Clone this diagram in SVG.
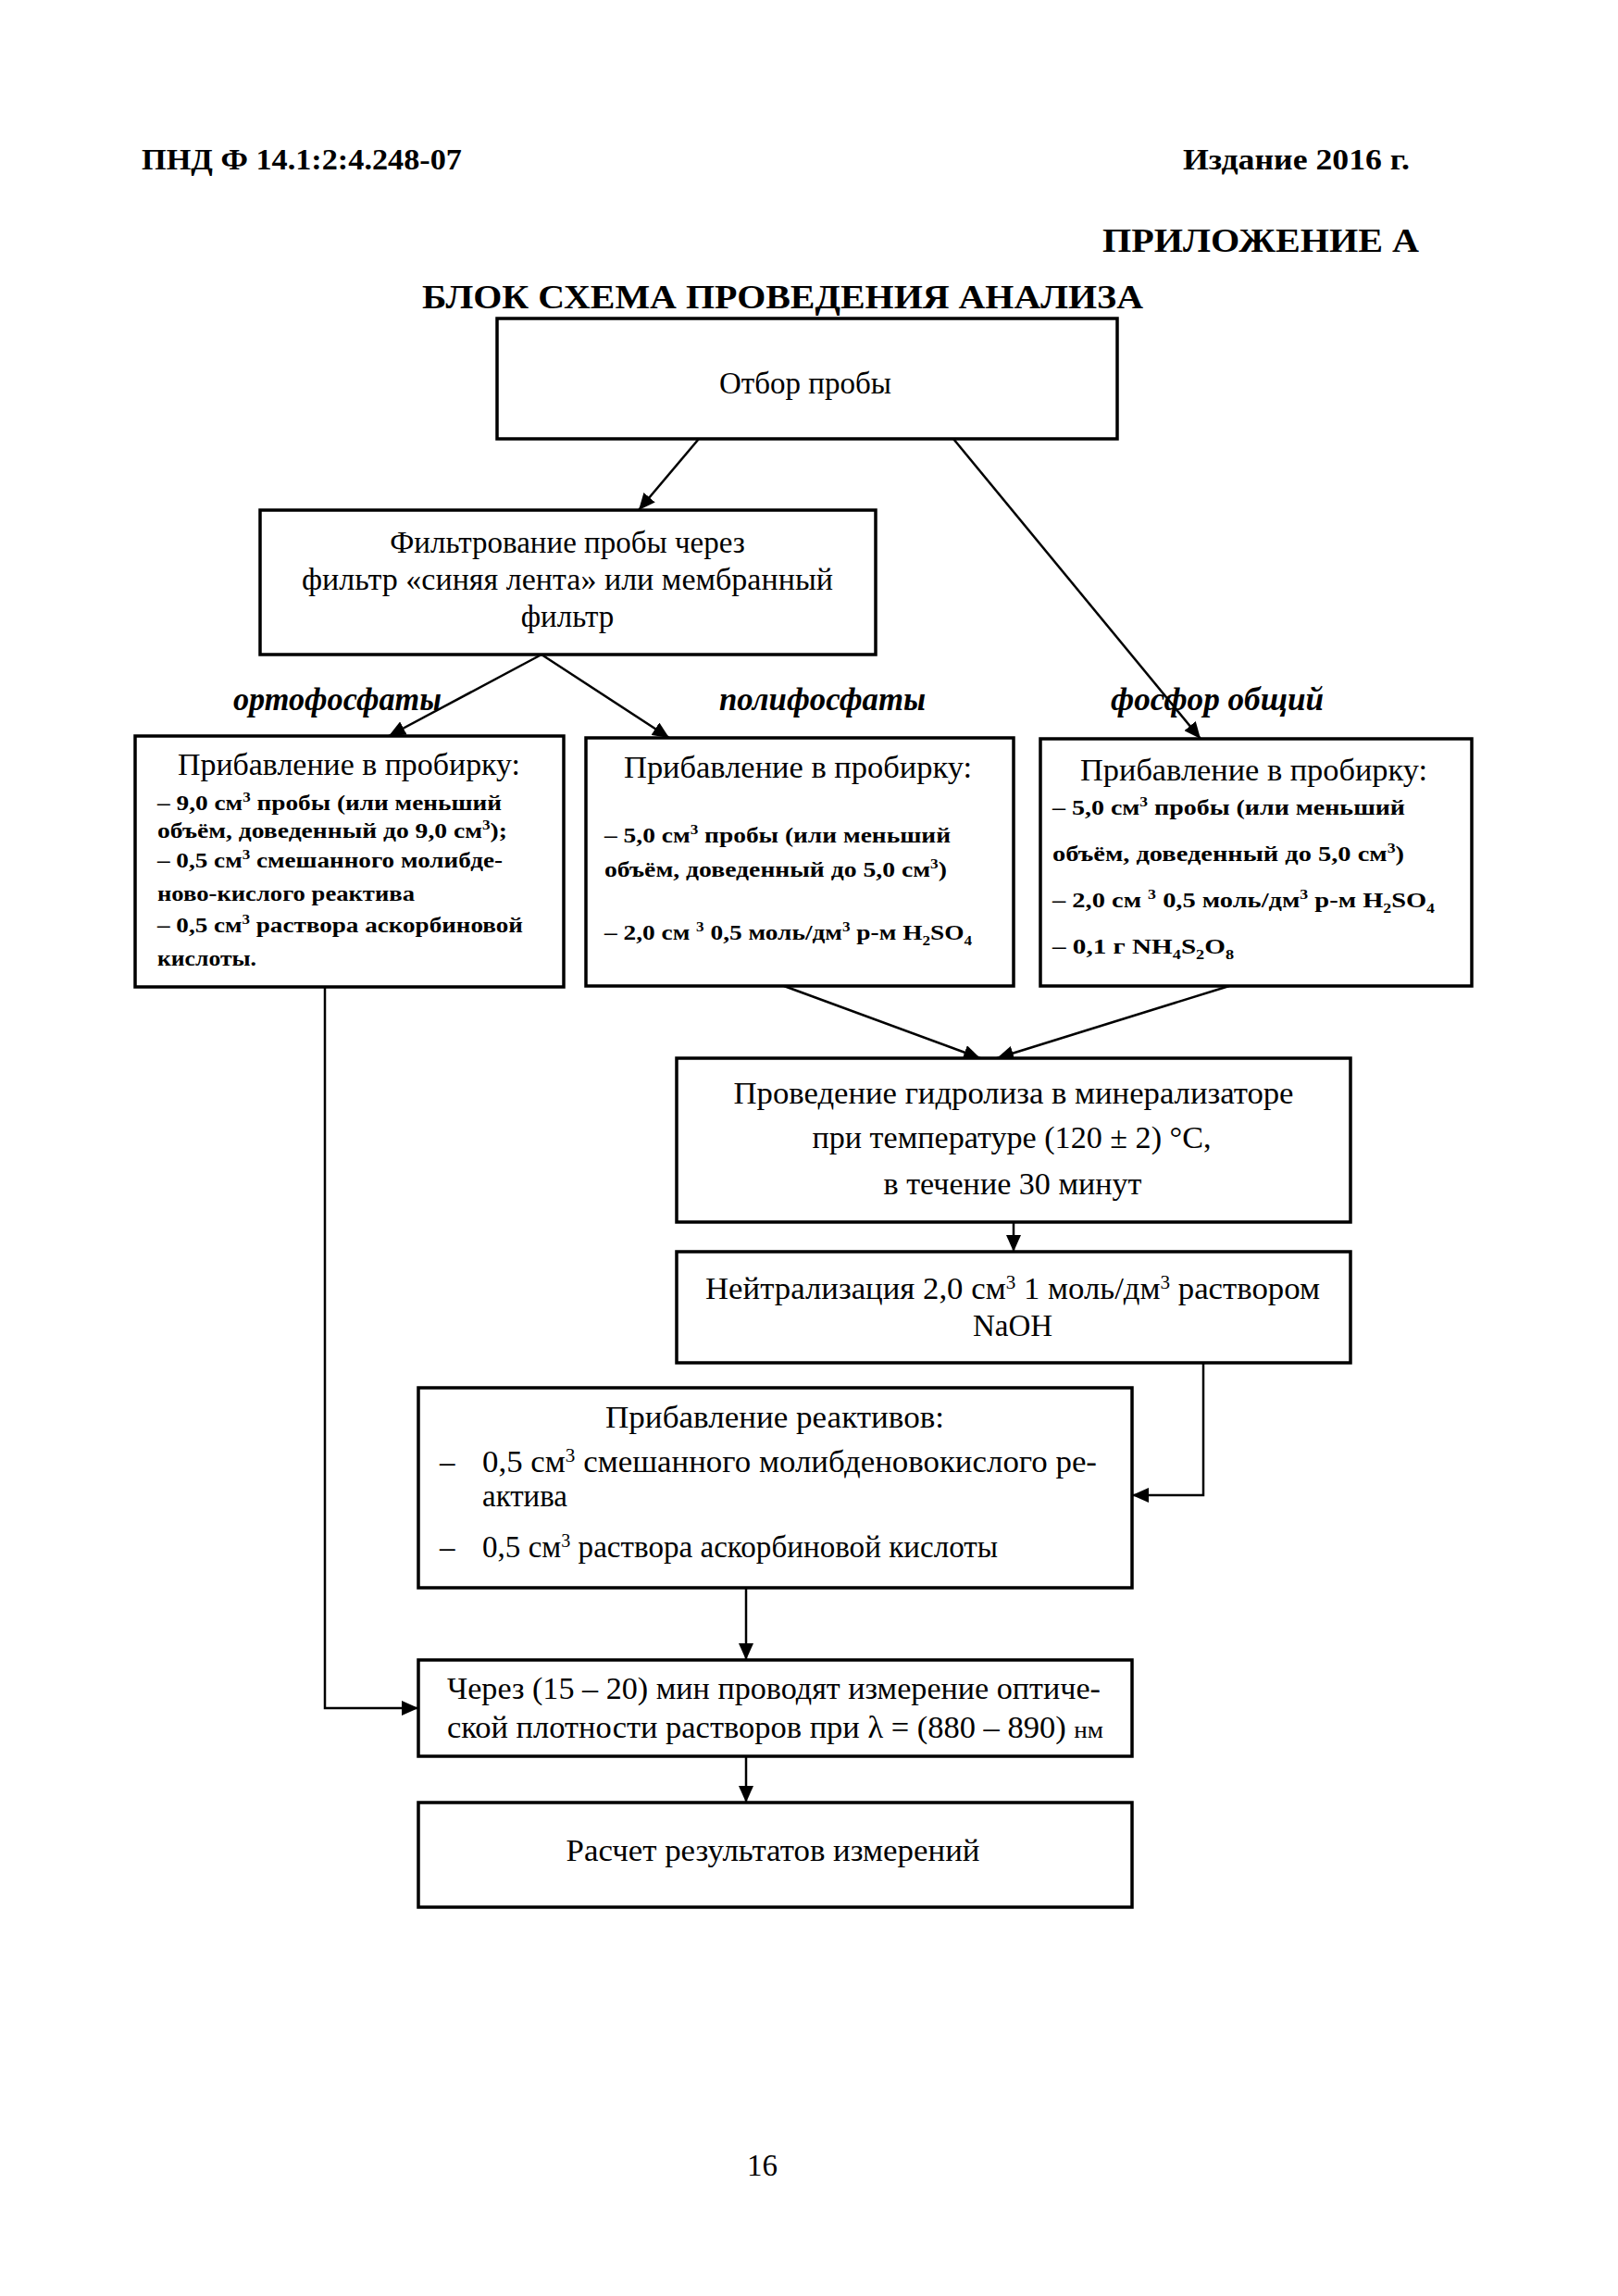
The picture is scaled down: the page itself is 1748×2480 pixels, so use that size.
<svg xmlns="http://www.w3.org/2000/svg" width="1748" height="2480" viewBox="0 0 1748 2480">
<style>
text{font-family:"Liberation Serif","Times New Roman",serif;fill:#000}
.box{fill:#fff;stroke:#000;stroke-width:3.5}
.conn{fill:none;stroke:#000;stroke-width:2.5;marker-end:url(#ah)}
.t{font-size:33px}
.c{text-anchor:middle}
.s{font-size:24px;font-weight:bold}
.lab{font-size:35px;font-weight:bold;font-style:italic}
.h{font-weight:bold;font-size:32px}
.h2{font-weight:bold;font-size:36px}
</style>
<defs>
<marker id="ah" markerUnits="userSpaceOnUse" markerWidth="20" markerHeight="16" refX="18" refY="8" orient="auto">
<path d="M0,0 L18,8 L0,16 z" fill="#000"/>
</marker>
</defs>
<rect width="1748" height="2480" fill="#fff"/>

<g id="header">
<text class="h" x="153" y="183" textLength="346" lengthAdjust="spacingAndGlyphs">ПНД Ф 14.1:2:4.248-07</text>
<text class="h" x="1278" y="183" textLength="245" lengthAdjust="spacingAndGlyphs">Издание 2016 г.</text>
<text class="h2" x="1191" y="272" textLength="342" lengthAdjust="spacingAndGlyphs">ПРИЛОЖЕНИЕ А</text>
<text class="h2" x="456" y="333" textLength="779" lengthAdjust="spacingAndGlyphs">БЛОК СХЕМА ПРОВЕДЕНИЯ АНАЛИЗА</text>
</g>

<g id="connectors">
<line class="conn" x1="755" y1="474" x2="690" y2="551"/>
<line class="conn" x1="1030" y1="474" x2="1297" y2="798"/>
<line class="conn" x1="585" y1="707" x2="420" y2="795"/>
<line class="conn" x1="585" y1="707" x2="723" y2="797"/>
<line class="conn" x1="847" y1="1065" x2="1059" y2="1143"/>
<line class="conn" x1="1328" y1="1065" x2="1077" y2="1143"/>
<line class="conn" x1="1095" y1="1320" x2="1095" y2="1352"/>
<polyline class="conn" points="1300,1472 1300,1615 1223,1615"/>
<line class="conn" x1="806" y1="1715" x2="806" y2="1793"/>
<polyline class="conn" points="351,1066 351,1845 452,1845"/>
<line class="conn" x1="806" y1="1897" x2="806" y2="1947"/>
</g>

<g id="labels">
<text class="lab" x="252" y="767" textLength="225" lengthAdjust="spacingAndGlyphs">ортофосфаты</text>
<text class="lab" x="777" y="767" textLength="223" lengthAdjust="spacingAndGlyphs">полифосфаты</text>
<text class="lab" x="1200" y="767" textLength="230" lengthAdjust="spacingAndGlyphs">фосфор общий</text>
</g>

<g id="n-otbor">
<rect class="box" x="537" y="344" width="670" height="130"/>
<text class="t c" x="870" y="425">Отбор пробы</text>
</g>

<g id="n-filter">
<rect class="box" x="281" y="551" width="665" height="156"/>
<text class="t c" x="613" y="597">Фильтрование пробы через</text>
<text class="t c" x="613" y="637" textLength="574" lengthAdjust="spacingAndGlyphs">фильтр «синяя лента» или мембранный</text>
<text class="t c" x="613" y="677">фильтр</text>
</g>

<g id="n-ortho">
<rect class="box" x="146" y="795" width="463" height="271"/>
<text class="t" x="192" y="837" textLength="370" lengthAdjust="spacingAndGlyphs">Прибавление в пробирку:</text>
<text class="s" x="170" y="875" textLength="372" lengthAdjust="spacingAndGlyphs">– 9,0 см<tspan dy="-9" font-size="15">3</tspan><tspan dy="9"> пробы (или меньший</tspan></text>
<text class="s" x="170" y="905" textLength="378" lengthAdjust="spacingAndGlyphs">объём, доведенный до 9,0 см<tspan dy="-9" font-size="15">3</tspan><tspan dy="9">);</tspan></text>
<text class="s" x="170" y="937" textLength="373" lengthAdjust="spacingAndGlyphs">– 0,5 см<tspan dy="-9" font-size="15">3</tspan><tspan dy="9"> смешанного молибде-</tspan></text>
<text class="s" x="170" y="973" textLength="278" lengthAdjust="spacingAndGlyphs">ново-кислого реактива</text>
<text class="s" x="170" y="1007" textLength="395" lengthAdjust="spacingAndGlyphs">– 0,5 см<tspan dy="-9" font-size="15">3</tspan><tspan dy="9"> раствора аскорбиновой</tspan></text>
<text class="s" x="170" y="1043" textLength="107" lengthAdjust="spacingAndGlyphs">кислоты.</text>
</g>

<g id="n-poly">
<rect class="box" x="633" y="797" width="462" height="268"/>
<text class="t" x="674" y="840" textLength="376" lengthAdjust="spacingAndGlyphs">Прибавление в пробирку:</text>
<text class="s" x="653" y="910" textLength="374" lengthAdjust="spacingAndGlyphs">– 5,0 см<tspan dy="-9" font-size="15">3</tspan><tspan dy="9"> пробы (или меньший</tspan></text>
<text class="s" x="653" y="947" textLength="370" lengthAdjust="spacingAndGlyphs">объём, доведенный до 5,0 см<tspan dy="-9" font-size="15">3</tspan><tspan dy="9">)</tspan></text>
<text class="s" x="653" y="1015" textLength="397" lengthAdjust="spacingAndGlyphs">– 2,0 см <tspan dy="-9" font-size="15">3</tspan><tspan dy="9"> 0,5 моль/дм</tspan><tspan dy="-9" font-size="15">3</tspan><tspan dy="9"> р-м H</tspan><tspan dy="6" font-size="15">2</tspan><tspan dy="-6">SO</tspan><tspan dy="6" font-size="15">4</tspan></text>
</g>

<g id="n-total">
<rect class="box" x="1124" y="798" width="466" height="267"/>
<text class="t" x="1167" y="843" textLength="375" lengthAdjust="spacingAndGlyphs">Прибавление в пробирку:</text>
<text class="s" x="1137" y="880" textLength="381" lengthAdjust="spacingAndGlyphs">– 5,0 см<tspan dy="-9" font-size="15">3</tspan><tspan dy="9"> пробы (или меньший</tspan></text>
<text class="s" x="1137" y="930" textLength="380" lengthAdjust="spacingAndGlyphs">объём, доведенный до 5,0 см<tspan dy="-9" font-size="15">3</tspan><tspan dy="9">)</tspan></text>
<text class="s" x="1137" y="980" textLength="413" lengthAdjust="spacingAndGlyphs">– 2,0 см <tspan dy="-9" font-size="15">3</tspan><tspan dy="9"> 0,5 моль/дм</tspan><tspan dy="-9" font-size="15">3</tspan><tspan dy="9"> р-м H</tspan><tspan dy="6" font-size="15">2</tspan><tspan dy="-6">SO</tspan><tspan dy="6" font-size="15">4</tspan></text>
<text class="s" x="1137" y="1030" textLength="196" lengthAdjust="spacingAndGlyphs">– 0,1 г NH<tspan dy="6" font-size="15">4</tspan><tspan dy="-6">S</tspan><tspan dy="6" font-size="15">2</tspan><tspan dy="-6">O</tspan><tspan dy="6" font-size="15">8</tspan></text>
</g>

<g id="n-hydrolysis">
<rect class="box" x="731" y="1143" width="728" height="177"/>
<text class="t c" x="1095" y="1192" textLength="605" lengthAdjust="spacingAndGlyphs">Проведение гидролиза в минерализаторе</text>
<text class="t c" x="1093" y="1240" textLength="431" lengthAdjust="spacingAndGlyphs">при температуре (120 ± 2) °С,</text>
<text class="t c" x="1094" y="1290" textLength="279" lengthAdjust="spacingAndGlyphs">в течение 30 минут</text>
</g>

<g id="n-neutral">
<rect class="box" x="731" y="1352" width="728" height="120"/>
<text class="t" x="762" y="1403" textLength="664" lengthAdjust="spacingAndGlyphs">Нейтрализация 2,0 см<tspan dy="-11" font-size="20">3</tspan><tspan dy="11"> 1 моль/дм</tspan><tspan dy="-11" font-size="20">3</tspan><tspan dy="11"> раствором</tspan></text>
<text class="t c" x="1094" y="1443">NaOH</text>
</g>

<g id="n-reagents">
<rect class="box" x="452" y="1499" width="771" height="216"/>
<text class="t c" x="837" y="1542" textLength="366" lengthAdjust="spacingAndGlyphs">Прибавление реактивов:</text>
<text class="t" x="475" y="1590">–</text>
<text class="t" x="521" y="1590" textLength="664" lengthAdjust="spacingAndGlyphs">0,5 см<tspan dy="-11" font-size="20">3</tspan><tspan dy="11"> смешанного молибденовокислого ре-</tspan></text>
<text class="t" x="521" y="1627" textLength="92" lengthAdjust="spacingAndGlyphs">актива</text>
<text class="t" x="475" y="1682">–</text>
<text class="t" x="521" y="1682" textLength="557" lengthAdjust="spacingAndGlyphs">0,5 см<tspan dy="-11" font-size="20">3</tspan><tspan dy="11"> раствора аскорбиновой кислоты</tspan></text>
</g>

<g id="n-measure">
<rect class="box" x="452" y="1793" width="771" height="104"/>
<text class="t" x="483" y="1835" textLength="706" lengthAdjust="spacingAndGlyphs">Через (15 – 20) мин проводят измерение оптиче-</text>
<text class="t" x="483" y="1877" textLength="709" lengthAdjust="spacingAndGlyphs">ской плотности растворов при λ = (880 – 890) <tspan font-size="26">нм</tspan></text>
</g>

<g id="n-calc">
<rect class="box" x="452" y="1947" width="771" height="113"/>
<text class="t c" x="835" y="2010" textLength="447" lengthAdjust="spacingAndGlyphs">Расчет результатов измерений</text>
</g>

<text class="t" x="807" y="2350">16</text>
</svg>
